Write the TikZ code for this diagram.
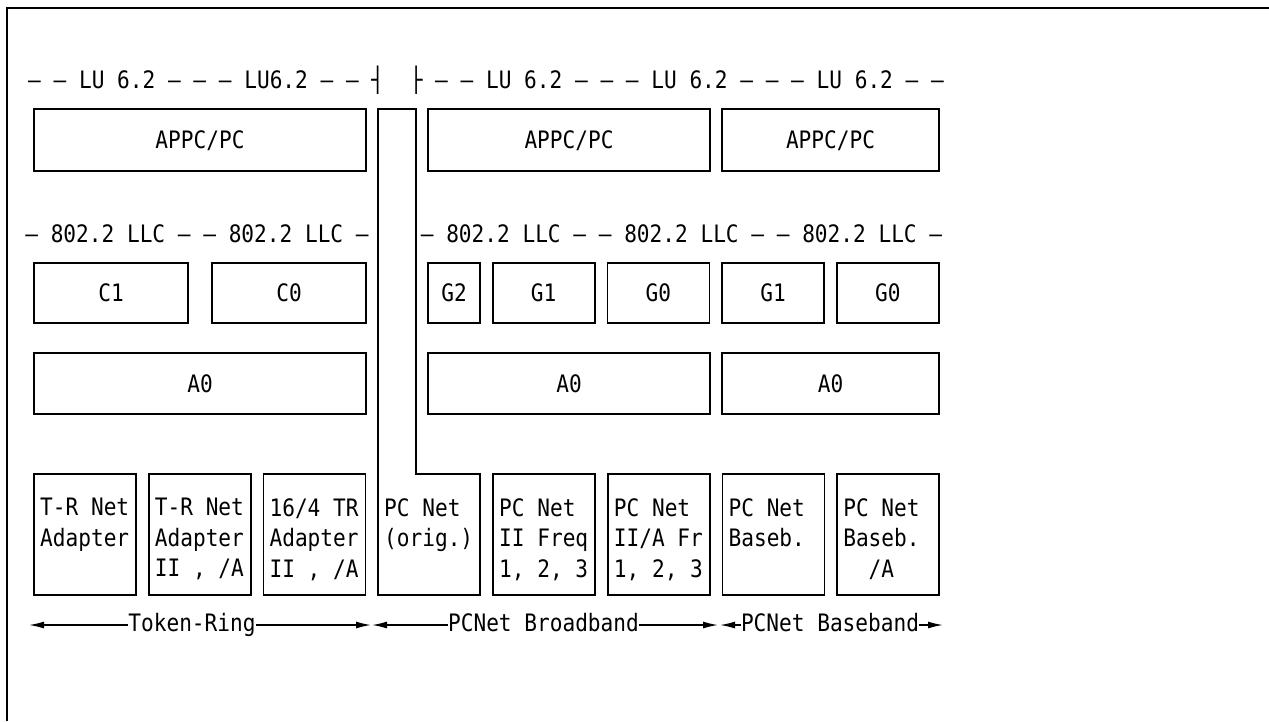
\documentclass[tikz,border=0pt]{standalone}
\usepackage{fontspec}
\usepackage{tikz}
\usetikzlibrary{arrows.meta, positioning}

\newfontfamily\ibmfont[FakeStretch=0.88]{DejaVu Sans Mono}
\newcommand{\ibmtext}{\ibmfont\fontsize{24}{30.5}\selectfont}
\frenchspacing

\begin{document}
\begin{tikzpicture}[
    x=1pt, y=-1pt,
    font=\ibmtext,
    box/.style={rectangle, draw, line width=1.6pt, inner sep=0pt, outer sep=0pt, anchor=north west, text height=17.5pt, text depth=0pt},
    card/.style={rectangle, draw, line width=1.6pt, inner sep=0pt, outer sep=0pt, anchor=north west, minimum width=102pt, minimum height=121pt},
    cardtext/.style={anchor=north west, align=left, inner sep=0pt},
    layer/.style={anchor=base west, inner sep=0pt},
    span/.style={anchor=base, inner sep=0pt, text height=18pt, text depth=5pt},
    arrow/.style={-{Latex[length=15pt, width=7pt]}, line width=1.4pt}
]
    \fill[white] (0,0) rectangle (1269,721);
    \useasboundingbox (0,0) rectangle (1269,721);

    % Frame
    \draw[line width=2.2pt] (7,721) -- (7,8) -- (1269,8);

    % Protocol lines
    \node[layer] (luleft) at (28,88.5) {– – LU 6.2 – – – LU6.2 – – ┤};
    \node[layer] (luright) at (409.6,88.5) {├ – – LU 6.2 – – – LU 6.2 – – – LU 6.2 – –};
    \node[layer, anchor=base] (llcleft) at (197,242) {– 802.2 LLC – – 802.2 LLC –};
    \node[layer, anchor=base] (llcright) at (681.5,242) {– 802.2 LLC – – 802.2 LLC – – 802.2 LLC –};

    % APPC layer
    \node[box, minimum width=332pt, minimum height=62pt] (appc1) at (34,109) {APPC/PC};
    \node[box, minimum width=282pt, minimum height=62pt] (appc2) at (428,109) {APPC/PC};
    \node[box, minimum width=217pt, minimum height=62pt, right=12pt of appc2] (appc3) {APPC/PC};

    % Link stations
    \node[box, minimum width=154pt, minimum height=60pt] (c1) at (34,263) {C1};
    \node[box, minimum width=154pt, minimum height=60pt, right=24pt of c1] (c0) {C0};
    \node[box, minimum width=52pt, minimum height=60pt] (g2) at (428,263) {G2};
    \node[box, minimum width=102pt, minimum height=60pt, right=12.7pt of g2] (g1) {G1};
    \node[box, minimum width=102pt, minimum height=60pt, right=12.7pt of g1] (g0) {G0};
    \node[box, minimum width=102pt, minimum height=60pt, right=12.7pt of g0] (g1b) {G1};
    \node[box, minimum width=102pt, minimum height=60pt, right=12.7pt of g1b] (g0b) {G0};

    % Adapter layer
    \node[box, minimum width=332pt, minimum height=61pt] (a0left) at (34,353) {A0};
    \node[box, minimum width=282pt, minimum height=61pt] (a0mid) at (428,353) {A0};
    \node[box, minimum width=217pt, minimum height=61pt, right=12pt of a0mid] (a0right) {A0};

    % Adapters
    \node[card] (tr1) at (34,474) {};
    \node[card, right=12.7pt of tr1] (tr2) {};
    \node[card, right=12.7pt of tr2] (tr3) {};
    \node[card] (pcfreq) at (493,474) {};
    \node[card, right=12.7pt of pcfreq] (pcfr) {};
    \node[card, right=12.7pt of pcfr] (pcbase) {};
    \node[card, right=12.7pt of pcbase] (pcbasea) {};

    \node[cardtext] (tr1t) at ([shift={(6,24)}]tr1.north west) {T-R Net\\Adapter};
    \node[cardtext] (tr2t) at ([shift={(6,24)}]tr2.north west) {T-R Net\\Adapter\\II , /A};
    \node[cardtext] (tr3t) at ([shift={(6,24)}]tr3.north west) {16/4 TR\\Adapter\\II , /A};
    \node[cardtext] (pcfreqt) at ([shift={(6,24)}]pcfreq.north west) {PC Net\\II Freq\\1, 2, 3};
    \node[cardtext] (pcfrt) at ([shift={(6,24)}]pcfr.north west) {PC Net\\II/A Fr\\1, 2, 3};
    \node[cardtext] (pcbaset) at ([shift={(6,24)}]pcbase.north west) {PC Net\\Baseb.};
    \node[cardtext] (pcbaseat) at ([shift={(6,24)}]pcbasea.north west) {PC Net\\Baseb.\\\hphantom{Ba}/A};

    % PC Net (orig.) column
    \draw[line width=1.6pt] (378,109) -- (416,109) -- (416,474) -- (480,474) -- (480,595) -- (378,595) -- cycle;
    \node[cardtext] (origt) at (384,498) {PC Net\\(orig.)};

    % Network spans
    \node[span] (tokenring) at (192,631.5) {Token-Ring};
    \node[span] (broadband) at (543.5,631.5) {PCNet Broadband};
    \node[span] (baseband) at (830,631.5) {PCNet Baseband};
    \coordinate (trL) at (29,625);
    \coordinate (trR) at (371,625);
    \coordinate (bbL) at (372,625);
    \coordinate (bbR) at (718,625);
    \coordinate (bsL) at (720,625);
    \coordinate (bsR) at (943,625);

    \draw[arrow] (tokenring.west) -- (tokenring.west -| trL);
    \draw[arrow] (tokenring.east) -- (tokenring.east -| trR);
    \draw[arrow] (broadband.west) -- (broadband.west -| bbL);
    \draw[arrow] (broadband.east) -- (broadband.east -| bbR);
    \draw[arrow] (baseband.west) -- (baseband.west -| bsL);
    \draw[arrow] (baseband.east) -- (baseband.east -| bsR);
\end{tikzpicture}
\end{document}
